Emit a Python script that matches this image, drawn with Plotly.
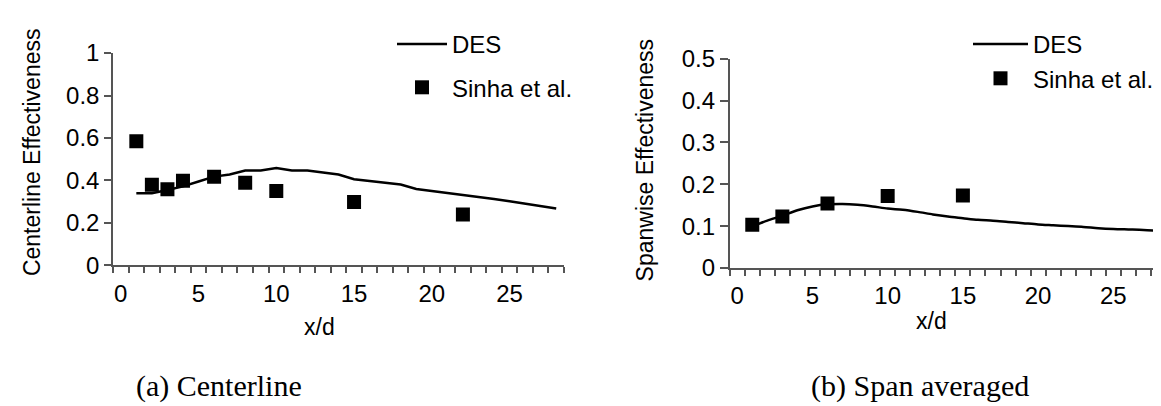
import plotly.graph_objects as go

# ---- data ----
des_x = list(range(1, 29))
center_des = [0.340, 0.340, 0.355, 0.372, 0.395, 0.418, 0.428, 0.447, 0.447, 0.458,
              0.447, 0.447, 0.438, 0.428, 0.406, 0.398, 0.390, 0.381, 0.360, 0.351,
              0.342, 0.333, 0.323, 0.313, 0.302, 0.291, 0.280, 0.268]
center_exp_x = [1, 2, 3, 4, 6, 8, 10, 15, 22]
center_exp = [0.585, 0.38, 0.359, 0.399, 0.418, 0.389, 0.35, 0.299, 0.240]

span_des = [0.100, 0.113, 0.125, 0.138, 0.147, 0.152, 0.153, 0.151, 0.147, 0.142,
            0.139, 0.134, 0.128, 0.123, 0.119, 0.115, 0.113, 0.110, 0.107, 0.104,
            0.102, 0.100, 0.098, 0.095, 0.093, 0.092, 0.091, 0.089]
span_exp_x = [1, 3, 6, 10, 15]
span_exp = [0.103, 0.123, 0.154, 0.172, 0.173]

x_tickvals = [0, 5, 10, 15, 20, 25]
y1_tickvals = [0, 0.2, 0.4, 0.6, 0.8, 1]
y1_ticktext = ["0", "0.2", "0.4", "0.6", "0.8", "1"]
y2_tickvals = [0, 0.1, 0.2, 0.3, 0.4, 0.5]
y2_ticktext = ["0", "0.1", "0.2", "0.3", "0.4", "0.5"]

W, H = 1161, 406
SANS = "Liberation Sans, Arial, sans-serif"
SERIF = "Liberation Serif, Times New Roman, serif"
AX = "#555555"
XRANGE = [-0.5, 28.5]
cat_edges = [XRANGE[0] + i for i in range(30)]
TICKFONT = dict(family=SANS, size=24, color="black")


def px_x(p):
    return p / W


def px_y(p):
    return 1 - p / H


fig = go.Figure()

fig.add_trace(go.Scatter(x=des_x, y=center_des, mode="lines", name="DES",
                         line=dict(color="black", width=2.5),
                         xaxis="x", yaxis="y", legend="legend", legendgroup="a1"))
fig.add_trace(go.Scatter(x=center_exp_x, y=center_exp, mode="markers", name="Sinha et al.",
                         marker=dict(symbol="square", size=14, color="black"),
                         xaxis="x", yaxis="y", legend="legend", legendgroup="a2"))
fig.add_trace(go.Scatter(x=des_x, y=span_des, mode="lines", name="DES",
                         line=dict(color="black", width=2.5, shape="spline", smoothing=0.8),
                         xaxis="x2", yaxis="y2", legend="legend2"))
fig.add_trace(go.Scatter(x=span_exp_x, y=span_exp, mode="markers", name="Sinha et al.",
                         marker=dict(symbol="square", size=14, color="black"),
                         xaxis="x2", yaxis="y2", legend="legend2"))
# empty helper traces so the tick-label axes get drawn
fig.add_trace(go.Scatter(x=[], y=[], xaxis="x3", yaxis="y", showlegend=False, hoverinfo="skip"))
fig.add_trace(go.Scatter(x=[], y=[], xaxis="x4", yaxis="y2", showlegend=False, hoverinfo="skip"))


def xaxis_ticks(domain, anchor):
    return dict(domain=domain, anchor=anchor, range=XRANGE,
                tickmode="array", tickvals=cat_edges, showticklabels=False,
                ticks="outside", ticklen=6, tickwidth=1.5, tickcolor=AX,
                showline=True, linecolor=AX, linewidth=1.5,
                showgrid=False, zeroline=False)


def xaxis_labels(domain, over, pos):
    return dict(domain=domain, anchor="free", position=pos, range=XRANGE, overlaying=over,
                tickmode="array", tickvals=x_tickvals, ticks="",
                showline=False, showgrid=False, zeroline=False, tickfont=TICKFONT)


def yaxis(domain, anchor, rng, tv, tt, tl):
    return dict(domain=domain, anchor=anchor, range=rng,
                tickmode="array", tickvals=tv, ticktext=tt,
                ticks="outside", ticklen=tl, tickwidth=1.5, tickcolor=AX,
                showticklabels=True, tickfont=TICKFONT,
                showline=True, linecolor=AX, linewidth=1.5,
                showgrid=False, zeroline=False)


d1 = [px_x(105), px_x(556)]
d2 = [px_x(721.7), px_x(1158)]
v1 = [px_y(260.7), px_y(33.3)]
v2 = [px_y(263.5), px_y(39.3)]

fig.update_layout(
    width=W, height=H,
    margin=dict(l=0, r=0, t=0, b=0, pad=0),
    paper_bgcolor="white", plot_bgcolor="rgba(0,0,0,0)",
    xaxis=xaxis_ticks(d1, "y"),
    yaxis=yaxis(v1, "x", [0, 1], y1_tickvals, y1_ticktext, 7),
    xaxis2=xaxis_ticks(d2, "y2"),
    yaxis2=yaxis(v2, "x2", [0, 0.5], y2_tickvals, y2_ticktext, 8),
    xaxis3=xaxis_labels(d1, "x", px_y(272.7)),
    xaxis4=xaxis_labels(d2, "x2", px_y(275)),
    legend=dict(x=px_x(384), y=1, xanchor="left", yanchor="top",
                bgcolor="rgba(0,0,0,0)", itemwidth=50, tracegroupgap=9,
                traceorder="grouped",
                font=dict(family=SANS, size=24, color="black")),
    legend2=dict(x=px_x(960), y=1, xanchor="left", yanchor="top",
                 bgcolor="rgba(0,0,0,0)", itemwidth=55,
                 traceorder="normal",
                 font=dict(family=SANS, size=24, color="black")),
    showlegend=True,
)

ann = []
ann.append(dict(text="Centerline Effectiveness", x=px_x(24.7), y=px_y(139.7), textangle=-90,
                font=dict(family=SANS, size=23, color="black")))
ann.append(dict(text="Spanwise Effectiveness", x=px_x(637), y=px_y(148.3), textangle=-90,
                font=dict(family=SANS, size=23, color="black")))
ann.append(dict(text="x/d", x=px_x(311), y=px_y(326.7),
                font=dict(family=SANS, size=23, color="black")))
ann.append(dict(text="x/d", x=px_x(923.3), y=px_y(320.7),
                font=dict(family=SANS, size=23, color="black")))
ann.append(dict(text="(a) Centerline", x=px_x(211), y=px_y(390),
                font=dict(family=SERIF, size=30, color="black")))
ann.append(dict(text="(b) Span averaged", x=px_x(912), y=px_y(390),
                font=dict(family=SERIF, size=30, color="black")))
for a in ann:
    a.update(xref="paper", yref="paper", showarrow=False, xanchor="center", yanchor="middle")
fig.update_layout(annotations=ann)

fig.write_html("out.html")
